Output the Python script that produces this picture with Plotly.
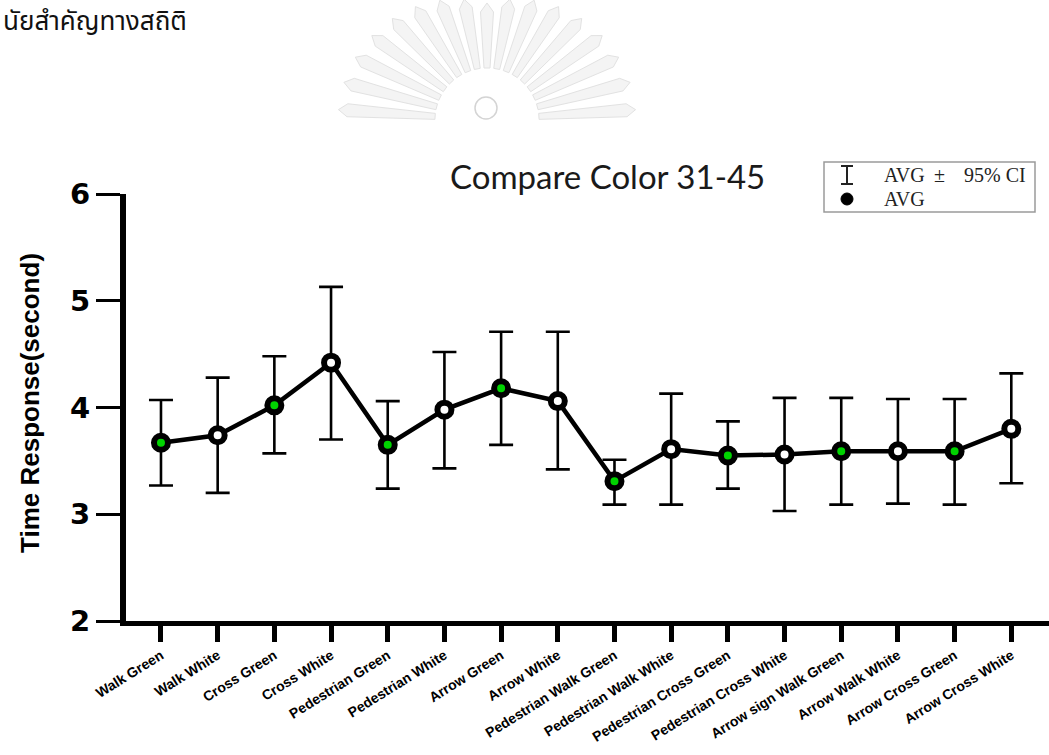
import math
import plotly.graph_objects as go

# ---- data -------------------------------------------------------------
categories = [
    "Walk Green", "Walk White", "Cross Green", "Cross White",
    "Pedestrian Green", "Pedestrian White", "Arrow Green", "Arrow White",
    "Pedestrian Walk Green", "Pedestrian Walk White", "Pedestrian Cross Green",
    "Pedestrian Cross White", "Arrow sign Walk Green", "Arrow Walk White",
    "Arrow Cross Green", "Arrow Cross White",
]
avg = [3.67, 3.74, 4.02, 4.42, 3.65, 3.98, 4.18, 4.06,
       3.31, 3.61, 3.55, 3.56, 3.59, 3.59, 3.59, 3.80]
ci_upper = [4.07, 4.28, 4.48, 5.13, 4.06, 4.52, 4.71, 4.71,
            3.51, 4.13, 3.87, 4.09, 4.09, 4.08, 4.08, 4.32]
ci_lower = [3.27, 3.20, 3.57, 3.70, 3.24, 3.43, 3.65, 3.42,
            3.09, 3.09, 3.24, 3.03, 3.09, 3.10, 3.09, 3.29]
y_ticks = [2, 3, 4, 5, 6]

chart_title = "Compare Color 31-45"
y_title = "Time Response(second)"
header_text = "นัยสำคัญทางสถิติ"

# ---- page geometry ----------------------------------------------------
W, H = 1049, 755
M = dict(l=126, r=0, t=194, b=134)


def px(x):
    return (x - M["l"]) / (W - M["l"] - M["r"])


def py(y):
    return (H - M["b"] - y) / (H - M["t"] - M["b"])


err_plus = [u - a for u, a in zip(ci_upper, avg)]
err_minus = [a - l for a, l in zip(avg, ci_lower)]
fill = ["#00d400" if c.endswith("Green") else "white" for c in categories]

fig = go.Figure()
fig.add_trace(go.Scatter(
    x=categories, y=avg, mode="lines+markers",
    line=dict(color="black", width=4.5),
    marker=dict(symbol="circle", size=14, color=fill,
                line=dict(color="black", width=6)),
    error_y=dict(type="data", symmetric=False, array=err_plus,
                 arrayminus=err_minus, color="black", thickness=2.6, width=12),
    showlegend=False, hoverinfo="skip",
))

shapes = []

# faint sunburst emblem at the top of the page
cx, cy = 487, 120
n_rays = 17
for k in range(n_rays):
    th = math.radians(176 - k * (172 / (n_rays - 1)))
    dx, dy = math.cos(th), -math.sin(th)
    nx, ny = -dy, dx
    r_in = 52
    r_out = 108 + 32 * abs(math.cos(th))
    w_in, w_out = 3, 6.5
    pts = [
        (cx + dx * r_in + nx * w_in, cy + dy * r_in + ny * w_in),
        (cx + dx * r_out + nx * w_out, cy + dy * r_out + ny * w_out),
        (cx + dx * (r_out + 9), cy + dy * (r_out + 9)),
        (cx + dx * r_out - nx * w_out, cy + dy * r_out - ny * w_out),
        (cx + dx * r_in - nx * w_in, cy + dy * r_in - ny * w_in),
    ]
    path = "M " + " L ".join(f"{px(a):.5f},{py(b):.5f}" for a, b in pts) + " Z"
    shapes.append(dict(type="path", xref="paper", yref="paper", path=path,
                       fillcolor="#f4f4f4", line=dict(color="#e2e2e2", width=1)))
shapes.append(dict(type="circle", xref="paper", yref="paper",
                   x0=px(475), x1=px(497), y0=py(97), y1=py(119),
                   line=dict(color="#d4d4d4", width=1.5)))

# legend box
shapes.append(dict(type="rect", xref="paper", yref="paper",
                   x0=px(824), x1=px(1035), y0=py(162), y1=py(212),
                   line=dict(color="#9a9a9a", width=1.5), fillcolor="white"))
for (x0, y0, x1, y1) in [(847, 166, 847, 184), (841, 166, 853, 166),
                         (841, 184, 853, 184)]:
    shapes.append(dict(type="line", xref="paper", yref="paper",
                       x0=px(x0), y0=py(y0), x1=px(x1), y1=py(y1),
                       line=dict(color="#222", width=2)))
shapes.append(dict(type="circle", xref="paper", yref="paper",
                   x0=px(841), x1=px(853), y0=py(193), y1=py(205),
                   fillcolor="black", line=dict(color="black", width=1)))

serif = dict(family="Liberation Serif, DejaVu Serif, serif", size=20, color="#222")
annotations = [
    dict(text=chart_title, xref="paper", yref="paper", x=px(607), y=py(176),
         xanchor="center", yanchor="middle", showarrow=False,
         font=dict(family="Lato, Open Sans, sans-serif", size=33, color="#1a1a1a")),
    dict(text=y_title, xref="paper", yref="paper", x=px(30), y=py(403),
         xanchor="center", yanchor="middle", textangle=-90, showarrow=False,
         font=dict(family="Liberation Sans Narrow, Arial Narrow, Liberation Sans",
                   size=26, color="black", weight="bold")),
    dict(text=header_text, xref="paper", yref="paper", x=px(1), y=py(22),
         xanchor="left", yanchor="middle", showarrow=False,
         font=dict(family="Noto Sans Thai, Tahoma, Noto Sans, sans-serif",
                   size=26, color="#111")),
    dict(text="AVG", xref="paper", yref="paper", x=px(882), y=py(175),
         xanchor="left", yanchor="middle", showarrow=False, font=serif),
    dict(text="±", xref="paper", yref="paper", x=px(939), y=py(175),
         xanchor="center", yanchor="middle", showarrow=False, font=serif),
    dict(text="95% CI", xref="paper", yref="paper", x=px(962), y=py(175),
         xanchor="left", yanchor="middle", showarrow=False, font=serif),
    dict(text="AVG", xref="paper", yref="paper", x=px(882), y=py(199),
         xanchor="left", yanchor="middle", showarrow=False, font=serif),
]

fig.update_layout(
    width=W, height=H, margin=M,
    paper_bgcolor="white", plot_bgcolor="white",
    shapes=shapes, annotations=annotations,
    xaxis=dict(
        type="category", range=[-0.617, 15.665],
        showline=True, linecolor="black", linewidth=5,
        ticks="outside", ticklen=16, tickwidth=5, tickcolor="black",
        tickangle=-32, showgrid=False, zeroline=False,
        tickfont=dict(family="Liberation Sans, Arial, sans-serif", size=14,
                      color="black", weight="bold"),
    ),
    yaxis=dict(
        range=[2, 6], tickvals=y_ticks,
        showline=True, linecolor="black", linewidth=6,
        ticks="outside", ticklen=24, tickwidth=3, tickcolor="black",
        showgrid=False, zeroline=False,
        tickfont=dict(family="DejaVu Sans, Liberation Sans, sans-serif", size=29,
                      color="black", weight="bold"),
    ),
)

fig.write_html("out.html")
